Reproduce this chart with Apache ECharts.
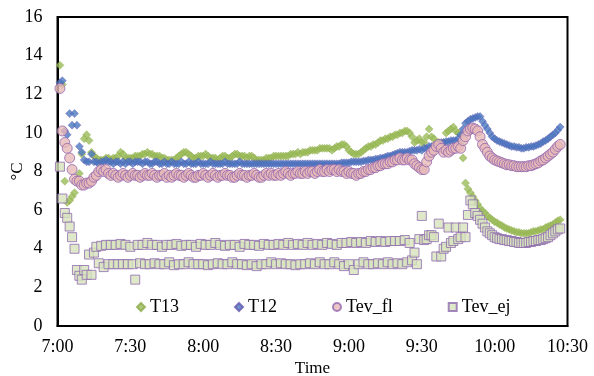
<!DOCTYPE html>
<html>
<head>
<meta charset="utf-8">
<script src="https://cdn.jsdelivr.net/npm/echarts@6/dist/echarts.min.js"></script>
<style>
html,body{margin:0;padding:0;background:#fff;}
#chart{width:594px;height:376px;}
</style>
</head>
<body>
<div id="chart"></div>
<script>
// minutes after 7:00 of the first sample, sampling step (minutes)
const startMinute = 1;
const stepMinutes = 1;
const tickLabels = ["7:00","7:30","8:00","8:30","9:00","9:30","10:00","10:30"];
const seriesNames = ["T13","T12","Tev_fl","Tev_ej"];

const T13 = [
13.5,12.5,7.5,6.4,6.5,6.7,6.9,7.6,7.9,8.9,
9.7,9.9,9.6,9.0,8.8,8.7,8.6,8.6,8.6,8.7,
8.7,8.6,8.7,8.7,8.8,9.0,8.9,8.7,8.7,8.7,
8.7,8.8,8.8,8.8,8.9,8.9,9.0,8.9,8.9,8.8,
8.8,8.8,8.7,8.7,8.6,8.6,8.6,8.6,8.7,8.8,
8.9,9.0,9.0,8.9,8.8,8.7,8.7,8.8,8.8,8.8,
8.9,8.8,8.7,8.7,8.7,8.6,8.7,8.8,8.8,8.7,
8.7,8.8,8.9,8.9,8.8,8.8,8.8,8.7,8.8,8.8,
8.7,8.6,8.6,8.6,8.6,8.7,8.7,8.7,8.8,8.8,
8.8,8.8,8.8,8.8,8.8,8.9,8.9,8.9,9.0,8.9,
9.0,9.0,9.0,9.1,9.1,9.1,9.1,9.2,9.2,9.2,
9.2,9.2,9.1,9.2,9.3,9.3,9.4,9.4,9.3,9.1,
9.0,8.9,8.9,8.9,9.0,9.1,9.2,9.3,9.3,9.4,
9.4,9.5,9.6,9.6,9.7,9.7,9.8,9.8,9.9,9.9,
10.0,10.0,10.1,10.1,10.0,9.8,9.5,9.6,9.7,9.5,
9.5,9.8,10.2,9.8,9.7,9.5,9.5,9.4,9.5,10.0,
10.1,10.2,10.3,10.1,10.0,9.4,8.7,7.4,7.1,6.9,
6.7,6.5,6.3,6.1,5.95,5.85,5.7,5.6,5.5,5.4,
5.35,5.25,5.2,5.1,5.05,5.0,4.95,4.9,4.85,4.85,
4.8,4.8,4.8,4.8,4.85,4.9,4.9,4.95,5.0,5.0,
5.1,5.15,5.2,5.25,5.35,5.45,5.5
];

const T12 = [
12.6,12.7,10.1,9.9,11.0,10.4,11.0,10.4,9.3,9.0,
8.6,8.5,8.5,8.9,8.5,8.5,8.4,8.5,8.5,8.6,
8.5,8.5,8.4,8.5,8.5,8.4,8.5,8.4,8.5,8.5,
8.4,8.5,8.5,8.5,8.4,8.5,8.5,8.4,8.4,8.5,
8.5,8.4,8.4,8.5,8.4,8.4,8.5,8.4,8.4,8.4,
8.5,8.4,8.4,8.5,8.4,8.4,8.4,8.5,8.4,8.4,
8.4,8.4,8.5,8.4,8.4,8.4,8.4,8.4,8.5,8.4,
8.4,8.4,8.4,8.4,8.5,8.4,8.4,8.4,8.4,8.4,
8.4,8.4,8.4,8.4,8.4,8.4,8.4,8.4,8.4,8.4,
8.4,8.4,8.4,8.4,8.4,8.4,8.4,8.4,8.4,8.4,
8.4,8.4,8.4,8.4,8.4,8.4,8.4,8.4,8.4,8.4,
8.4,8.4,8.4,8.4,8.4,8.4,8.45,8.45,8.45,8.45,
8.5,8.5,8.5,8.5,8.5,8.55,8.55,8.6,8.6,8.6,
8.65,8.65,8.7,8.7,8.75,8.8,8.8,8.85,8.9,8.95,
9.0,9.0,9.0,9.0,9.05,9.1,9.1,9.1,9.15,9.1,
9.2,9.2,9.3,9.3,9.2,9.3,9.4,9.5,9.5,9.55,
9.55,9.6,9.6,9.6,9.7,9.9,10.2,10.5,10.6,10.7,
10.75,10.8,10.85,10.85,10.6,10.4,10.2,10.0,9.8,9.7,
9.6,9.55,9.5,9.45,9.4,9.35,9.3,9.3,9.25,9.25,
9.2,9.2,9.25,9.25,9.3,9.3,9.35,9.4,9.45,9.55,
9.6,9.7,9.8,9.9,10.0,10.15,10.3
];

const Tev_fl = [
12.3,10.1,9.5,9.2,8.7,8.1,7.6,7.5,7.5,7.3,
7.3,7.4,7.4,7.5,7.7,7.8,8.0,8.1,8.0,8.1,
7.9,7.8,7.9,7.8,7.7,7.8,7.9,7.8,7.7,7.8,
7.9,7.8,7.8,7.7,7.8,7.9,7.8,7.8,7.9,7.8,
7.7,7.8,7.8,7.9,7.7,7.8,7.7,7.8,7.9,7.8,
7.8,7.7,7.8,7.9,7.8,7.7,7.7,7.8,7.8,7.9,
7.8,7.7,7.8,7.9,7.8,7.7,7.8,7.8,7.9,7.8,
7.8,7.7,7.7,7.8,7.9,7.8,7.8,7.7,7.8,7.8,
7.9,7.8,7.7,7.7,7.8,7.9,7.8,7.9,7.8,7.8,
7.9,7.8,7.9,8.0,7.9,7.8,7.9,7.9,8.0,7.9,
7.9,8.0,7.9,8.0,8.0,7.9,8.0,8.1,8.0,8.0,
8.1,8.0,8.1,8.1,8.0,8.1,8.0,8.0,7.9,8.0,
7.9,7.9,7.8,7.9,7.9,8.0,8.0,8.1,8.1,8.2,
8.2,8.3,8.3,8.4,8.4,8.4,8.5,8.5,8.6,8.6,
8.7,8.6,8.6,8.7,8.6,8.6,8.4,8.3,8.2,8.1,
8.1,8.5,8.8,9.0,9.1,9.3,9.4,9.2,9.0,9.1,
9.0,9.1,9.2,9.2,9.3,9.2,9.6,9.8,10.1,10.2,
10.25,10.2,10.1,9.8,9.4,9.2,9.0,8.8,8.7,8.6,
8.55,8.5,8.45,8.4,8.35,8.35,8.3,8.3,8.25,8.25,
8.25,8.25,8.25,8.3,8.3,8.35,8.4,8.45,8.55,8.6,
8.7,8.8,8.9,9.0,9.15,9.3,9.4
];

const Tev_ej = [
8.25,6.6,5.85,5.6,5.15,4.6,4.0,2.9,2.6,2.4,
2.9,2.65,3.7,2.65,3.8,4.1,3.25,4.15,3.05,4.2,
3.2,4.2,3.2,4.2,3.2,4.25,3.2,4.2,3.2,4.1,
3.2,2.4,4.2,3.25,4.2,3.2,4.3,3.2,4.2,3.25,
4.2,3.2,4.1,3.2,4.2,3.3,4.2,3.15,4.25,3.2,
4.15,3.2,4.2,3.3,4.2,3.2,4.1,3.2,4.25,3.2,
4.2,3.15,4.2,3.2,4.3,3.25,4.2,3.2,4.15,3.2,
4.2,3.3,4.2,3.2,4.1,3.2,4.25,3.15,4.2,3.2,
4.2,3.1,4.15,3.2,4.25,3.2,4.2,3.3,4.2,3.2,
4.25,3.25,4.2,3.2,4.3,3.2,4.2,3.15,4.25,3.2,
4.2,3.2,4.3,3.25,4.2,3.2,4.25,3.3,4.2,3.2,
4.3,3.2,4.25,3.3,4.2,3.2,4.3,3.1,4.3,3.2,
4.35,2.9,4.3,3.2,4.35,3.3,4.3,3.2,4.4,3.2,
4.35,3.25,4.4,3.2,4.35,3.3,4.4,3.2,4.4,3.25,
4.4,3.2,4.45,3.3,4.3,3.4,3.8,3.2,4.5,5.7,
4.45,4.5,4.7,4.7,4.6,3.6,5.3,3.6,4.0,4.1,
5.1,4.3,4.4,5.1,4.5,4.6,5.1,4.6,5.75,6.5,
6.3,5.85,5.7,5.5,5.3,5.1,4.9,4.8,4.7,4.6,
4.55,4.5,4.5,4.45,4.45,4.4,4.4,4.35,4.35,4.3,
4.3,4.3,4.3,4.35,4.35,4.4,4.4,4.45,4.45,4.5,
4.55,4.6,4.7,4.8,4.9,5.0,5.05
];

function pairs(vals){
  return vals.map((v,i)=>[startMinute + i*stepMinutes, v]);
}

const FONT = 'Liberation Serif';
const chart = echarts.init(document.getElementById('chart'), null, {renderer:'canvas'});
const styles = [
  {symbol:'diamond', size:8, item:{color:'#9BBB59', borderColor:'#8CAA4C', borderWidth:0.5}},
  {symbol:'diamond', size:8, item:{color:'#4A78C0', borderColor:'#6658AE', borderWidth:0.5}},
  {symbol:'circle', size:10, item:{color:'#E6B9B8', borderColor:'#9467B0', borderWidth:1}},
  {symbol:'rect', size:9, item:{color:'#D7E4BD', borderColor:'#8F6AB0', borderWidth:1}}
];
const allData = [T13, T12, Tev_fl, Tev_ej];

chart.setOption({
  animation:false,
  backgroundColor:'#fff',
  grid:{left:57.5, right:26.5, top:17, bottom:50, show:true, borderColor:'#000', borderWidth:2,
        backgroundColor:'transparent', containLabel:false, outerBoundsMode:'none'},
  legend:{
    data: seriesNames.map((n,i)=>({name:n, icon: i<2 ? 'diamond' : (i===2?'circle':'rect')})),
    left:136, top:298, padding:0,
    itemWidth:8, itemHeight:8, itemGap:55,
    textStyle:{fontFamily:FONT, fontSize:18, color:'#000'}
  },
  xAxis:{
    type:'value', min:0, max:210, interval:30,
    name:'Time', nameLocation:'middle', nameGap:34, nameMoveOverlap:false,
    nameTextStyle:{fontFamily:FONT, fontSize:17, color:'#000'},
    axisLine:{show:true, lineStyle:{color:'#000', width:2}},
    axisTick:{show:false},
    splitLine:{show:false},
    axisLabel:{fontFamily:FONT, fontSize:18, color:'#000', margin:12,
      formatter:(v)=>tickLabels[Math.round(v/30)]}
  },
  yAxis:{
    type:'value', min:0, max:16, interval:2,
    name:'°C', nameLocation:'middle', nameGap:31, nameRotate:90, nameMoveOverlap:false,
    nameTextStyle:{fontFamily:FONT, fontSize:17, color:'#000'},
    axisLine:{show:true, lineStyle:{color:'#000', width:2}},
    axisTick:{show:false},
    splitLine:{show:false},
    axisLabel:{fontFamily:FONT, fontSize:18, color:'#000', margin:15}
  },
  series: seriesNames.map((n,i)=>({
    name:n, type:'scatter', symbol:styles[i].symbol, symbolSize:styles[i].size,
    itemStyle:styles[i].item, data:pairs(allData[i]), z:2+i
  }))
});
</script>
</body>
</html>
